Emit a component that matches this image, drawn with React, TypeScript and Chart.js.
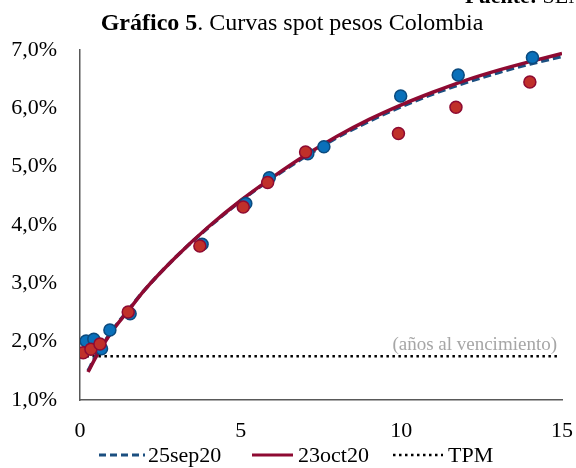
import { Chart, ChartConfiguration, Plugin, registerables } from "chart.js";
import { useEffect, useRef } from "react";

Chart.register(...registerables);

// curvas ajustadas (años al vencimiento, tasa %)
const curveYears = [0.25, 0.5, 1, 1.5, 2, 3, 4, 5, 6, 7, 8, 9, 10, 11, 12, 13, 14, 15];
const curveSep20 = [1.5, 1.76, 2.19, 2.54, 2.88, 3.46, 3.96, 4.41, 4.81, 5.17, 5.5, 5.78, 6.03, 6.25, 6.44, 6.61, 6.76, 6.89];
const curveOct20 = [1.48, 1.74, 2.18, 2.53, 2.88, 3.46, 3.97, 4.42, 4.82, 5.19, 5.52, 5.81, 6.06, 6.28, 6.48, 6.65, 6.8, 6.94];

// puntos observados
const sepYears = [0.19, 0.43, 0.67, 0.93, 1.56, 3.8, 5.16, 5.89, 7.09, 7.59, 9.98, 11.77, 14.08];
const sepRates = [2.01, 2.04, 1.88, 2.2, 2.48, 3.67, 4.37, 4.81, 5.22, 5.34, 6.21, 6.57, 6.87];
const octYears = [0.1, 0.34, 0.62, 1.5, 3.73, 5.08, 5.84, 7.02, 9.91, 11.7, 14.0];
const octRates = [1.81, 1.87, 1.96, 2.51, 3.64, 4.31, 4.73, 5.25, 5.57, 6.02, 6.45];

const tpmYears = [0.2, 14.85];
const tpmRates = [1.75, 1.75];

const BLUE_LINE = "#1B4F80";
const RED_LINE = "#8E0A32";
const SERIF = "'Liberation Serif', 'Times New Roman', serif";

const toXY = (xs: number[], ys: number[]) => xs.map((x, i) => ({ x, y: ys[i] }));

const textPlugin: Plugin = {
	id: "textos",
	afterDraw(chart) {
		const ctx = chart.ctx;
		ctx.save();
		ctx.fillStyle = "#000";
		ctx.textBaseline = "alphabetic";

		// fuente (cortada arriba)
		ctx.textAlign = "left";
		ctx.font = `bold 22px ${SERIF}`;
		ctx.fillText("Fuente:", 465, 3);
		let w = ctx.measureText("Fuente: ").width;
		ctx.font = `22px ${SERIF}`;
		ctx.fillText("SEN, BanRep", 465 + w, 3);

		// titulo
		ctx.font = `bold 24px ${SERIF}`;
		const boldPart = "Gráfico 5";
		const wb = ctx.measureText(boldPart).width;
		ctx.font = `24px ${SERIF}`;
		const restPart = ". Curvas spot pesos Colombia";
		const wr = ctx.measureText(restPart).width;
		const startX = 292 - (wb + wr) / 2;
		ctx.font = `bold 24px ${SERIF}`;
		ctx.fillText(boldPart, startX, 30);
		ctx.font = `24px ${SERIF}`;
		ctx.fillText(restPart, startX + wb, 30);

		// anotacion
		ctx.fillStyle = "#A6A6A6";
		ctx.font = `19px ${SERIF}`;
		ctx.textAlign = "right";
		ctx.fillText("(años al vencimiento)", 557, 350);

		// leyenda
		const ly = 455;
		ctx.textAlign = "left";
		ctx.textBaseline = "middle";
		ctx.font = `22px ${SERIF}`;
		ctx.fillStyle = "#000";
		const items = [
			{ x0: 99, x1: 145, color: BLUE_LINE, dash: [7, 4], width: 3, label: "25sep20", tx: 148 },
			{ x0: 252, x1: 293, color: RED_LINE, dash: [], width: 3, label: "23oct20", tx: 298 },
			{ x0: 393, x1: 443, color: "#000", dash: [2.5, 3.5], width: 2.5, label: "TPM", tx: 448 },
		];
		items.forEach(it => {
			ctx.beginPath();
			ctx.setLineDash(it.dash);
			ctx.strokeStyle = it.color;
			ctx.lineWidth = it.width;
			ctx.moveTo(it.x0, ly);
			ctx.lineTo(it.x1, ly);
			ctx.stroke();
			ctx.fillText(it.label, it.tx, ly + 1);
		});
		ctx.restore();
	},
};

export default function App() {
	const chartRef = useRef<HTMLCanvasElement>(null);
	useEffect(() => {
		if (chartRef.current == null) {
			return;
		}

		const config: ChartConfiguration = {
			type: "scatter",
			data: {
				datasets: [
					{
						label: "23oct20 obs",
						data: toXY(octYears, octRates),
						backgroundColor: "#C0302A",
						borderColor: "#8E0A32",
						borderWidth: 1.5,
						pointRadius: 6,
					},
					{
						label: "25sep20 obs",
						data: toXY(sepYears, sepRates),
						backgroundColor: "#0A70BA",
						borderColor: "#0B4A7E",
						borderWidth: 1.5,
						pointRadius: 6,
					},
					{
						label: "23oct20",
						data: toXY(curveYears, curveOct20),
						showLine: true,
						borderColor: RED_LINE,
						borderWidth: 3.5,
						pointRadius: 0,
						cubicInterpolationMode: "monotone" as const,
					},
					{
						label: "25sep20",
						data: toXY(curveYears, curveSep20),
						showLine: true,
						borderColor: BLUE_LINE,
						borderWidth: 3.5,
						borderDash: [8, 4],
						pointRadius: 0,
						cubicInterpolationMode: "monotone" as const,
					},
					{
						label: "TPM",
						data: toXY(tpmYears, tpmRates),
						showLine: true,
						borderColor: "#000",
						borderWidth: 2.5,
						borderDash: [2.5, 3.5],
						pointRadius: 0,
					},
				],
			},
			options: {
				animation: false,
				responsive: false,
				events: [],
				layout: {
					padding: { top: 50, right: 14, left: 0, bottom: 0 },
				},
				plugins: {
					legend: { display: false },
					tooltip: { enabled: false },
				},
				scales: {
					x: {
						type: "linear",
						min: 0,
						max: 15,
						afterFit: (s: any) => {
							s.height = 68;
							s.paddingLeft = 0;
							s.paddingRight = 0;
						},
						grid: { display: false, drawTicks: false },
						border: { display: true, color: "#595959", width: 1.5 },
						ticks: {
							stepSize: 5,
							padding: 18,
							color: "#000",
							font: { family: SERIF, size: 22 },
						},
					},
					y: {
						type: "linear",
						min: 1,
						max: 7,
						afterFit: (s: any) => {
							s.width = 80;
							s.paddingTop = 0;
							s.paddingBottom = 0;
						},
						grid: { display: false, drawTicks: false },
						border: { display: true, color: "#595959", width: 1.5 },
						ticks: {
							stepSize: 1,
							padding: 23,
							color: "#000",
							font: { family: SERIF, size: 22 },
							callback: (v: any) => Number(v).toFixed(1).replace(".", ",") + "%",
						},
					},
				},
			},
			plugins: [textPlugin],
		};

		const chart = new Chart(chartRef.current, config);
		return () => {
			chart.destroy();
		};
	}, []);

	return (
		<div style={{ position: "fixed", left: 0, top: 0, width: 576, height: 468, background: "#fff" }}>
			<canvas ref={chartRef} width={576} height={468} />
		</div>
	);
}
